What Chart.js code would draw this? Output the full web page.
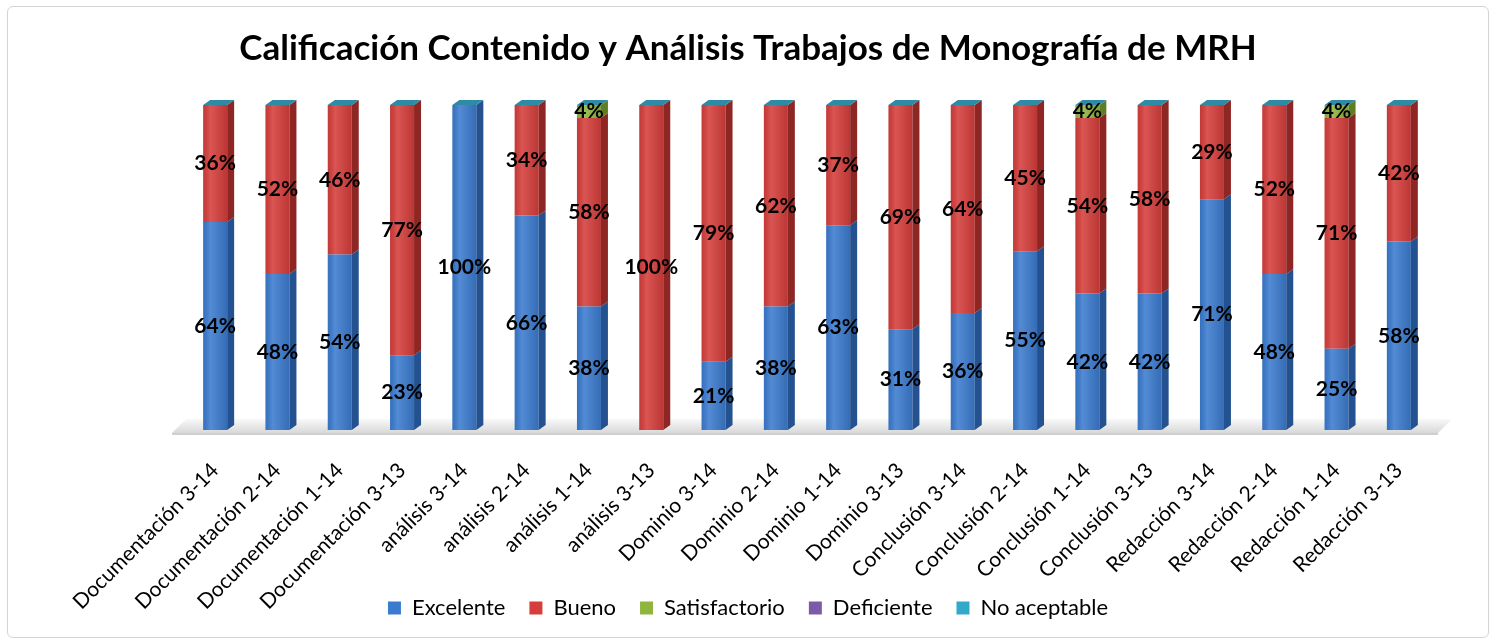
<!DOCTYPE html>
<html>
<head>
<meta charset="utf-8">
<script src="https://cdn.jsdelivr.net/npm/chart.js@4.4.0/dist/chart.umd.min.js"></script>
<style>
    html, body { margin: 0; padding: 0; background: #fff; }
    #marco { position: absolute; left: 7px; top: 6px; width: 1480px; height: 630px; border: 1px solid #d4d4d4; border-radius: 6px; }
    #contenedor { position: absolute; left: 0; top: 0; width: 1496px; height: 644px; }
</style>
</head>
<body>
<div id="marco"></div>
<div id="contenedor"><canvas id="grafica"></canvas></div>
<script>
// DATOS
const categorias = [
    'Documentación 3-14', 'Documentación 2-14', 'Documentación 1-14', 'Documentación 3-13',
    'análisis 3-14', 'análisis 2-14', 'análisis 1-14', 'análisis 3-13',
    'Dominio 3-14', 'Dominio 2-14', 'Dominio 1-14', 'Dominio 3-13',
    'Conclusión 3-14', 'Conclusión 2-14', 'Conclusión 1-14', 'Conclusión 3-13',
    'Redacción 3-14', 'Redacción 2-14', 'Redacción 1-14', 'Redacción 3-13'
];
const excelente     = [64, 48, 54, 23, 100, 66, 38, 0, 21, 38, 63, 31, 36, 55, 42, 42, 71, 48, 25, 58];
const bueno         = [36, 52, 46, 77, 0, 34, 58, 100, 79, 62, 37, 69, 64, 45, 54, 58, 29, 52, 71, 42];
const satisfactorio = [0, 0, 0, 0, 0, 0, 4, 0, 0, 0, 0, 0, 0, 0, 4, 0, 0, 0, 4, 0];
const deficiente    = [0, 0, 0, 0, 0, 0, 0, 0, 0, 0, 0, 0, 0, 0, 0, 0, 0, 0, 0, 0];
const noAceptable   = [0, 0, 0, 0, 0, 0, 0, 0, 0, 0, 0, 0, 0, 0, 0, 0, 0, 0, 0, 0];

const titulo = 'Calificación Contenido y Análisis Trabajos de Monografía de MRH';

// efecto 3D: suelo, cara lateral y tapa
const efecto3D = {
    id: 'efecto3D',
    afterLayout(chart) {
        // las etiquetas del eje bajan hasta la leyenda, como en el original
        chart.scales.x.bottom = chart.height;
        chart.legend.top -= 15;
        chart.legend.bottom -= 15;
    },
    beforeDatasetsDraw(chart) {
        const { ctx, chartArea } = chart;
        const base = chart.scales.y.getPixelForValue(0);
        ctx.save();
        const g = ctx.createLinearGradient(0, base - 12, 0, base + 4);
        g.addColorStop(0, '#fbfbfb');
        g.addColorStop(1, '#d6d6d6');
        ctx.fillStyle = g;
        ctx.beginPath();
        ctx.moveTo(chartArea.left - 12, base + 3);
        ctx.lineTo(chartArea.left + 2, base - 11);
        ctx.lineTo(chartArea.right + 22, base - 11);
        ctx.lineTo(chartArea.right + 8, base + 3);
        ctx.closePath();
        ctx.fill();
        ctx.fillStyle = '#cfcfcf';
        ctx.fillRect(chartArea.left - 12, base + 3, chartArea.right - chartArea.left + 20, 2);
        ctx.restore();
    },
    afterDatasetsDraw(chart) {
        const ctx = chart.ctx;
        const dx = 7, dy = 5;
        const tapas = [];
        ctx.save();
        chart.data.datasets.forEach((ds, di) => {
            chart.getDatasetMeta(di).data.forEach((bar, i) => {
                if (!ds.data[i]) return;
                const l = bar.x - bar.width / 2, r = bar.x + bar.width / 2;
                const top = Math.min(bar.y, bar.base), bot = Math.max(bar.y, bar.base);
                const g = ctx.createLinearGradient(l, 0, r, 0);
                g.addColorStop(0, 'rgba(0,0,0,0.08)');
                g.addColorStop(0.3, 'rgba(255,255,255,0.12)');
                g.addColorStop(1, 'rgba(0,0,0,0.12)');
                ctx.fillStyle = g;
                ctx.fillRect(l, top, r - l, bot - top);
                ctx.fillStyle = ds.colorLado;
                ctx.beginPath();
                ctx.moveTo(r, top);
                ctx.lineTo(r + dx, top - dy);
                ctx.lineTo(r + dx, bot - dy);
                ctx.lineTo(r, bot);
                ctx.closePath();
                ctx.fill();
                if (!tapas[i] || top < tapas[i].top) tapas[i] = { l, r, top };
            });
        });
        tapas.forEach(t => {
            if (!t) return;
            ctx.fillStyle = '#2f8aa6';
            ctx.beginPath();
            ctx.moveTo(t.l, t.top);
            ctx.lineTo(t.l + dx, t.top - dy);
            ctx.lineTo(t.r + dx, t.top - dy);
            ctx.lineTo(t.r, t.top);
            ctx.closePath();
            ctx.fill();
        });
        ctx.restore();
    },
    afterDraw(chart) {
        const ctx = chart.ctx;
        ctx.save();
        ctx.font = 'bold 21px Lato';
        ctx.fillStyle = '#000';
        ctx.textAlign = 'center';
        ctx.textBaseline = 'middle';
        chart.data.datasets.forEach((ds, di) => {
            chart.getDatasetMeta(di).data.forEach((bar, i) => {
                const v = ds.data[i];
                if (!v) return;
                ctx.fillText(v + '%', bar.x, (bar.y + bar.base) / 2);
            });
        });
        ctx.restore();
    }
};

const ctx = document.getElementById('grafica').getContext('2d');

new Chart(ctx, {
    type: 'bar',
    data: {
        labels: categorias,
        datasets: [
            { label: 'Excelente', data: excelente, backgroundColor: '#3b7bcf', colorLado: '#245290' },
            { label: 'Bueno', data: bueno, backgroundColor: '#d53e3b', colorLado: '#8e2624' },
            { label: 'Satisfactorio', data: satisfactorio, backgroundColor: '#8fb53d', colorLado: '#5f7d22' },
            { label: 'Deficiente', data: deficiente, backgroundColor: '#7a5ba8', colorLado: '#4f3a70' },
            { label: 'No aceptable', data: noAceptable, backgroundColor: '#33a9c9', colorLado: '#207188' }
        ]
    },
    options: {
        responsive: true,
        maintainAspectRatio: false,
        animation: false,
        barPercentage: 0.77,
        categoryPercentage: 0.5,
        layout: { padding: 0 },
        plugins: {
            title: {
                display: true,
                text: titulo,
                color: '#000',
                font: { family: 'Lato', size: 35, weight: 'bold' },
                padding: { top: 28, bottom: 35 }
            },
            legend: {
                position: 'bottom',
                labels: {
                    color: '#000',
                    boxWidth: 13,
                    boxHeight: 13,
                    padding: 24,
                    font: { family: 'Lato', size: 22 }
                }
            },
            tooltip: { enabled: false }
        },
        scales: {
            x: {
                stacked: true,
                grid: { display: false, drawTicks: false },
                border: { display: false },
                ticks: {
                    color: '#000',
                    autoSkip: false,
                    minRotation: 45,
                    maxRotation: 45,
                    padding: 28,
                    font: { family: 'Lato', size: 21 }
                },
                afterFit(scale) { scale.height = 158; }
            },
            y: {
                stacked: true, min: 0, max: 100,
                ticks: { display: false },
                grid: { display: false },
                border: { display: false },
                afterFit(scale) { scale.width = 184; }
            },
            yDer: {
                type: 'linear', position: 'right',
                ticks: { display: false },
                grid: { display: false },
                border: { display: false },
                afterFit(scale) { scale.width = 66; }
            }
        }
    },
    plugins: [efecto3D]
});
</script>
</body>
</html>
